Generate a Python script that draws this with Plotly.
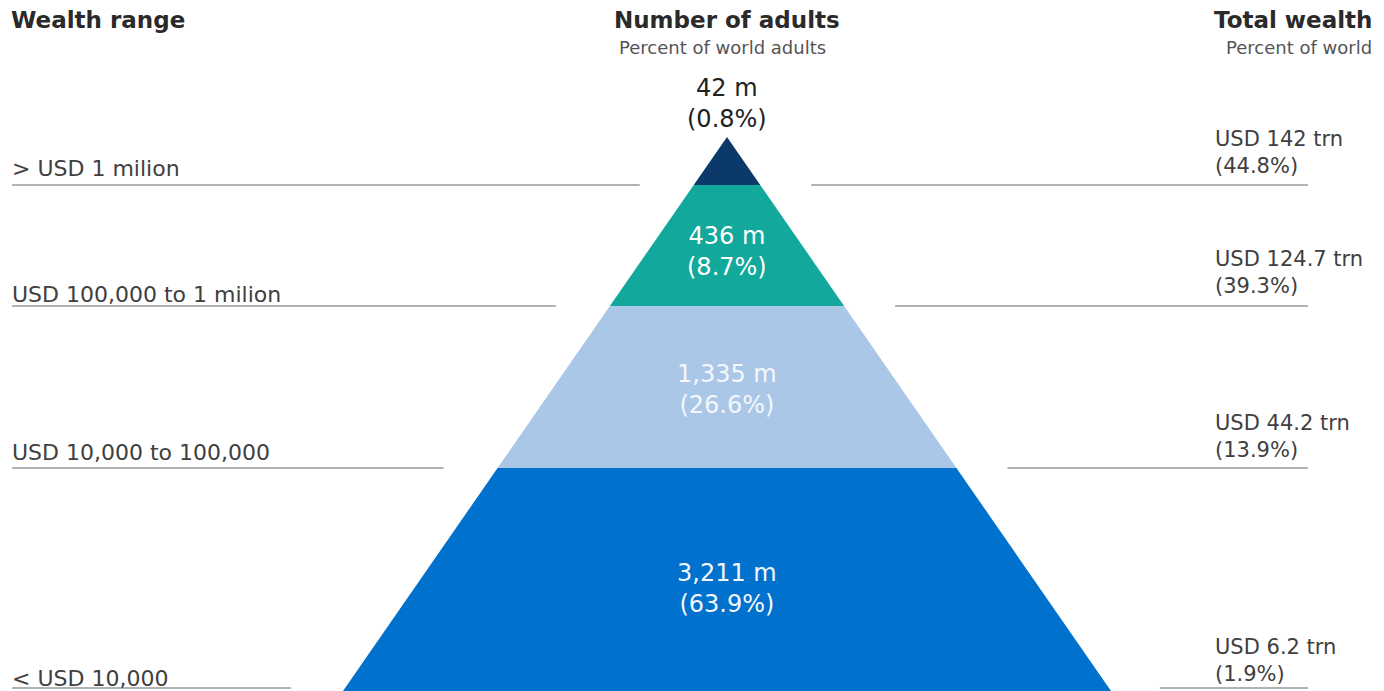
import plotly.graph_objects as go

# ---- data ----
wealth_ranges = ["> USD 1 milion", "USD 100,000 to 1 milion", "USD 10,000 to 100,000", "< USD 10,000"]
adults = ["42 m", "436 m", "1,335 m", "3,211 m"]
adults_pct = ["(0.8%)", "(8.7%)", "(26.6%)", "(63.9%)"]
wealth = ["USD 142 trn", "USD 124.7 trn", "USD 44.2 trn", "USD 6.2 trn"]
wealth_pct = ["(44.8%)", "(39.3%)", "(13.9%)", "(1.9%)"]

# ---- style / geometry (pixel space) ----
W, H = 1384, 691
colors = ["#0b3a6a", "#13a89c", "#abc7e8", "#0071cd"]
text_colors = ["#222222", "#ffffff", "#f4f7fb", "#f4f7fb"]
apex_x, apex_y = 727, 137
base_y = 691
base_half = 384
tier_bottoms = [185, 306, 468, 691]   # bottom edge of each tier
label_line_y = [185, 306, 468, 688]
left_label_y = [168, 294, 452, 678]
right_label_y = [152, 272, 436, 660]
adult_label_y = [103, 251, 389, 588]
gap = 54
line_col = "#b2b2b2"
font = "DejaVu Sans, Liberation Sans, sans-serif"

def half_w(y):
    return base_half * (y - apex_y) / (base_y - apex_y)

fig = go.Figure()
top = apex_y
for i in range(4):
    b = tier_bottoms[i]
    ht, hb = half_w(top), half_w(b)
    xs = [apex_x - ht, apex_x + ht, apex_x + hb, apex_x - hb, apex_x - ht]
    ys = [top, top, b, b, top]
    fig.add_trace(go.Scatter(x=xs, y=ys, fill="toself", fillcolor=colors[i],
                             mode="lines", line=dict(width=0, color=colors[i]),
                             hoverinfo="skip", showlegend=False))
    top = b

shapes = []
annotations = []
for i in range(4):
    ly = label_line_y[i]
    hw = half_w(ly)
    shapes.append(dict(type="line", x0=12, x1=apex_x - hw - gap, y0=ly, y1=ly,
                       line=dict(color=line_col, width=2), layer="below"))
    shapes.append(dict(type="line", x0=apex_x + hw + gap - 3, x1=1308, y0=ly, y1=ly,
                       line=dict(color=line_col, width=2), layer="below"))
    annotations.append(dict(x=10, y=left_label_y[i], text=wealth_ranges[i], xanchor="left", yanchor="middle",
                            showarrow=False, font=dict(family=font, size=22, color="#404040")))
    annotations.append(dict(x=1213, y=right_label_y[i], text=wealth[i] + "<br>" + wealth_pct[i],
                            xanchor="left", yanchor="middle", align="left", showarrow=False,
                            font=dict(family=font, size=21, color="#404040")))

for i in range(4):
    annotations.append(dict(x=apex_x, y=adult_label_y[i], text=adults[i] + "<br>" + adults_pct[i],
                            showarrow=False, xanchor="center", yanchor="middle", align="center",
                            font=dict(family=font, size=24, color=text_colors[i])))

# headers
annotations += [
    dict(x=9, y=20, text="<b>Wealth range</b>", xanchor="left", yanchor="middle", showarrow=False,
         font=dict(family=font, size=23, color="#2a2a2a")),
    dict(x=apex_x, y=20, text="<b>Number of adults</b>", xanchor="center", yanchor="middle", showarrow=False,
         font=dict(family=font, size=23, color="#2a2a2a")),
    dict(x=722, y=47, text="Percent of world adults", xanchor="center", yanchor="middle", showarrow=False,
         font=dict(family=font, size=18, color="#555555")),
    dict(x=1374, y=20, text="<b>Total wealth</b>", xanchor="right", yanchor="middle", showarrow=False,
         font=dict(family=font, size=23, color="#2a2a2a")),
    dict(x=1374, y=47, text="Percent of world", xanchor="right", yanchor="middle", showarrow=False,
         font=dict(family=font, size=18, color="#555555")),
]

fig.update_layout(
    width=W, height=H, margin=dict(l=0, r=0, t=0, b=0),
    paper_bgcolor="white", plot_bgcolor="white",
    xaxis=dict(range=[0, W], visible=False, fixedrange=True),
    yaxis=dict(range=[H, 0], visible=False, fixedrange=True),
    shapes=shapes, annotations=annotations, showlegend=False,
)

fig.write_html("out.html", config={"displayModeBar": False},
               post_script="document.body.style.margin='0';document.body.style.overflow='hidden';")
